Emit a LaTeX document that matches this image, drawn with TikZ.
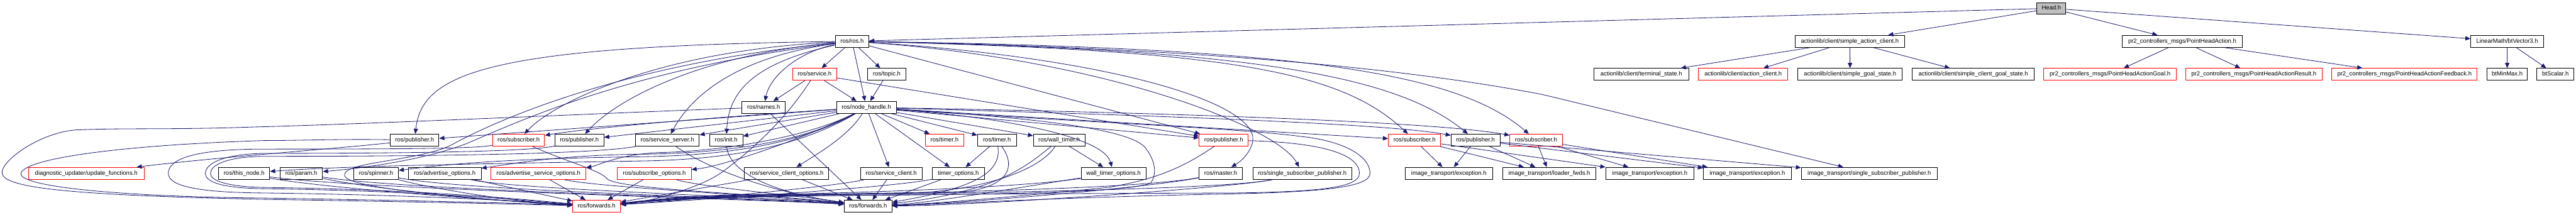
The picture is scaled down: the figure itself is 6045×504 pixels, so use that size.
\documentclass[tikz,border=0pt]{standalone}
\usepackage{fontspec}
\setmainfont{Liberation Sans}
\usetikzlibrary{arrows.meta}
\definecolor{edgec}{HTML}{191970}
\definecolor{redc}{HTML}{FF0000}
\definecolor{greyc}{HTML}{BFBFBF}
\begin{document}
\begin{tikzpicture}[x=0.5pt,y=-0.5pt,
  box/.style={draw=black, line width=0.7pt, minimum height=14pt, inner sep=0pt,
    font=\fontsize{7}{8}\selectfont, text height=5.1pt, text depth=1.5pt},
  rbox/.style={box, draw=redc},
  e/.style={draw=edgec, line width=0.6pt, -{Triangle[length=6pt,width=5pt]}}]
\fill[white] (0,0) rectangle (6045,504);
\useasboundingbox (0,0) rectangle (6045,504);

% row 0
\node[box,fill=greyc,minimum width=34pt,minimum height=13.5pt] (head) at (4814,19.5) {Head.h};
% row 1
\node[box,minimum width=39.5pt] (ros) at (1999.5,97) {ros/ros.h};
\node[box,minimum width=129pt] (sac) at (4341,97) {actionlib/client/simple\_action\_client.h};
\node[box,minimum width=141pt] (pha) at (5121,97) {pr2\_controllers\_msgs/PointHeadAction.h};
\node[box,minimum width=85.5pt] (btv) at (5883.5,97) {LinearMath/btVector3.h};
% row 2
\node[rbox,minimum width=51.5pt] (service) at (1911.5,174.5) {ros/service.h};
\node[box,minimum width=45pt] (topic) at (2081,174.5) {ros/topic.h};
\node[box,minimum width=111.5pt] (term) at (3851.5,174.5) {actionlib/client/terminal\_state.h};
\node[rbox,minimum width=104.5pt] (ac) at (4090.5,174.5) {actionlib/client/action\_client.h};
\node[box,minimum width=122.5pt] (sgs) at (4341.5,174.5) {actionlib/client/simple\_goal\_state.h};
\node[box,minimum width=143.5pt] (scgs) at (4630.5,174.5) {actionlib/client/simple\_client\_goal\_state.h};
\node[rbox,minimum width=155.5pt] (goal) at (4951.5,174.5) {pr2\_controllers\_msgs/PointHeadActionGoal.h};
\node[rbox,minimum width=160pt] (result) at (5289,174.5) {pr2\_controllers\_msgs/PointHeadActionResult.h};
\node[rbox,minimum width=170.5pt] (feedback) at (5642.5,174.5) {pr2\_controllers\_msgs/PointHeadActionFeedback.h};
\node[box,minimum width=47.5pt] (minmax) at (5883.5,174.5) {btMinMax.h};
\node[box,minimum width=43.5pt] (scalar) at (5996.5,174.5) {btScalar.h};
% row 3
\node[box,minimum width=51pt] (names) at (1792,252) {ros/names.h};
\node[box,minimum width=70pt] (nh) at (2033,252) {ros/node\_handle.h};
% row 4
\node[box,minimum width=57pt] (pubB) at (973,329) {ros/publisher.h};
\node[rbox,minimum width=61pt] (subA) at (1217,329) {ros/subscriber.h};
\node[box,minimum width=57.5pt] (pubA) at (1359.5,329) {ros/publisher.h};
\node[box,minimum width=75pt] (ss) at (1566,329) {ros/service\_server.h};
\node[box,minimum width=39pt] (init) at (1704,329) {ros/init.h};
\node[rbox,minimum width=45.5pt] (timerR) at (2216.5,329) {ros/timer.h};
\node[box,minimum width=45.5pt] (timerB) at (2339.5,329) {ros/timer.h};
\node[box,minimum width=60.5pt] (walltimer) at (2485.5,329) {ros/wall\_timer.h};
\node[rbox,minimum width=57.5pt] (pubR) at (2871.5,329) {ros/publisher.h};
\node[rbox,minimum width=61.5pt] (subB) at (3319.5,329) {ros/subscriber.h};
\node[box,minimum width=57.5pt] (pubC) at (3462.5,329) {ros/publisher.h};
\node[rbox,minimum width=61.5pt] (subC) at (3604.5,329) {ros/subscriber.h};
% row 5
\node[rbox,minimum width=135.5pt] (diag) at (202.5,407) {diagnostic\_updater/update\_functions.h};
\node[box,minimum width=60pt] (thisnode) at (573,407) {ros/this\_node.h};
\node[box,minimum width=50pt] (param) at (707,407) {ros/param.h};
\node[box,minimum width=52.5pt] (spinner) at (882.5,407) {ros/spinner.h};
\node[box,minimum width=85.5pt] (advopt) at (1043.5,407) {ros/advertise\_options.h};
\node[rbox,minimum width=111.5pt] (advsrvopt) at (1263.5,407) {ros/advertise\_service\_options.h};
\node[rbox,minimum width=86.5pt] (subopt) at (1535.5,407) {ros/subscribe\_options.h};
\node[box,minimum width=99pt] (sco) at (1846,407) {ros/service\_client\_options.h};
\node[box,minimum width=72.5pt] (sc) at (2091.5,407) {ros/service\_client.h};
\node[box,minimum width=61pt] (timeropt) at (2249,407) {timer\_options.h};
\node[box,minimum width=76pt] (wto) at (2613,407) {wall\_timer\_options.h};
\node[box,minimum width=51.5pt] (master) at (2864.5,407) {ros/master.h};
\node[box,minimum width=116pt] (ssp) at (3056,407) {ros/single\_subscriber\_publisher.h};
\node[box,minimum width=103pt] (exA) at (3400,407) {image\_transport/exception.h};
\node[box,minimum width=109.5pt] (loader) at (3635.5,407) {image\_transport/loader\_fwds.h};
\node[box,minimum width=103.5pt] (exB) at (3871.5,407) {image\_transport/exception.h};
\node[box,minimum width=103.5pt] (exC) at (4100.5,407) {image\_transport/exception.h};
\node[box,minimum width=159.5pt] (itssp) at (4386.5,407) {image\_transport/single\_subscriber\_publisher.h};
% row 6
\node[rbox,minimum width=56pt] (fwdR) at (1400,484) {ros/forwards.h};
\node[box,minimum width=56pt] (fwdB) at (2037,484) {ros/forwards.h};

% ---- Head and right part
\draw[e] (head) -- (ros);
\draw[e] (head) -- (sac);
\draw[e] (head) -- (pha);
\draw[e] (head) -- (btv);
\draw[e] (sac) -- (term);
\draw[e] (sac) -- (ac);
\draw[e] (sac) -- (sgs);
\draw[e] (sac) -- (scgs);
\draw[e] (pha) -- (goal);
\draw[e] (pha) -- (result);
\draw[e] (pha) -- (feedback);
\draw[e] (btv) -- (minmax);
\draw[e] (btv) -- (scalar);

% ---- ros.h
\draw[e] (ros) -- (service);
\draw[e] (ros) -- (topic);
\draw[e] (ros) -- (nh);
\draw[e] (ros) .. controls (1880,120) and (1808,175) .. (names);
\draw[e] (ros) .. controls (1760,150) and (1710,220) .. (init);
\draw[e] (ros) .. controls (1720,135) and (1620,230) .. (ss);
\draw[e] (ros) .. controls (1650,128) and (1450,230) .. (pubA);
\draw[e] (ros) .. controls (1550,118) and (1300,240) .. (subA);
\draw[e] (ros) .. controls (1150,108) and (990,170) .. (pubB);
\draw[e] (ros) .. controls (1500,160) and (1250,270) .. (1100,335) .. controls (1000,375) and (850,395) .. (param);
\draw[e] (ros) .. controls (1450,150) and (1150,290) .. (1060,340) .. controls (980,380) and (790,380) .. (810,415) .. controls (830,445) and (1150,470) .. (fwdR);
\draw[e] (ros) -- (pubR);
\draw[e] (ros) .. controls (2600,135) and (2950,240) .. (2940,330) .. controls (2935,360) and (2910,380) .. (master);
\draw[e] (ros) .. controls (2600,140) and (3000,300) .. (ssp);
\draw[e] (ros) .. controls (2900,118) and (3150,170) .. (subB);
\draw[e] (ros) .. controls (2950,115) and (3280,180) .. (pubC);
\draw[e] (ros) .. controls (3050,112) and (3420,170) .. (subC);
\draw[e] (ros) .. controls (2800,112) and (3300,160) .. (3620,222) -- (itssp);

% ---- service / topic
\draw[e] (service) -- (names);
\draw[e] (service) -- (nh);
\draw[e] (topic) -- (nh);
\draw[e] (service) -- (pubR);
\draw[e] (service) .. controls (1850,270) and (1780,340) .. (1700,400) .. controls (1650,440) and (1520,475) .. (fwdR);

% ---- node_handle.h
\draw[e] (nh) -- (pubB);
\draw[e] (nh) .. controls (1600,280) and (1350,305) .. (subA);
\draw[e] (nh) -- (pubA);
\draw[e] (nh) -- (ss);
\draw[e] (nh) -- (init);
\draw[e] (nh) .. controls (1900,330) and (1750,375) .. (1500,378) .. controls (1100,385) and (800,390) .. (thisnode);
\draw[e] (nh) .. controls (1900,325) and (1750,365) .. (1500,368) .. controls (1200,372) and (1050,385) .. (spinner);
\draw[e] (nh) .. controls (1910,320) and (1750,360) .. (1500,362) .. controls (1300,365) and (1200,385) .. (advopt);
\draw[e] (nh) .. controls (1900,320) and (1700,355) .. (1550,358) .. controls (1450,362) and (1400,390) .. (advsrvopt);
\draw[e] (nh) .. controls (1900,320) and (1700,390) .. (subopt);
\draw[e] (nh) .. controls (1990,320) and (1920,360) .. (sco);
\draw[e] (nh) -- (sc);
\draw[e] (nh) -- (timeropt);
\draw[e] (nh) -- (timerR);
\draw[e] (nh) -- (timerB);
\draw[e] (nh) -- (walltimer);
\draw[e] (nh) -- (pubR);
\draw[e] (nh) .. controls (2350,275) and (2590,320) .. (wto);
\draw[e] (nh) -- (subB);
\draw[e] (nh) .. controls (2600,268) and (3250,288) .. (pubC);
\draw[e] (nh) .. controls (2600,262) and (3350,282) .. (subC);
\draw[e] (nh) .. controls (2400,275) and (2660,300) .. (2690,350) .. controls (2712,380) and (2715,410) .. (2700,430) .. controls (2650,450) and (2400,455) .. (2100,458) .. controls (1900,460) and (1650,458) .. (fwdR);
\draw[e] (nh) .. controls (2500,285) and (2900,300) .. (3050,320) .. controls (3150,330) and (3215,365) .. (3215,407) .. controls (3215,440) and (3100,450) .. (2900,455) .. controls (2500,462) and (2200,480) .. (fwdB);

% ---- big loops on the left
\draw[e] (names) .. controls (1500,262) and (900,290) .. (600,298) .. controls (400,305) and (300,300) .. (178,305) .. controls (90,312) and (0,380) .. (5,407) .. controls (10,440) and (150,458) .. (620,468) .. controls (1000,474) and (1250,480) .. (fwdR);
\draw[e] (pubB) .. controls (800,326) and (700,330) .. (620,330) .. controls (300,340) and (60,370) .. (49,407) .. controls (45,440) and (300,462) .. (620,465) .. controls (1000,471) and (1250,478) .. (fwdR);
\draw[e] (pubB) .. controls (800,348) and (500,370) .. (diag);
\draw[e] (subA) .. controls (1120,348) and (1000,350) .. (620,350) .. controls (450,350) and (395,375) .. (395,407) .. controls (395,440) and (480,452) .. (620,453) .. controls (1000,458) and (1250,474) .. (fwdR);
\draw[e] (pubA) .. controls (1250,355) and (1000,360) .. (620,360) .. controls (520,362) and (482,385) .. (482,407) .. controls (482,432) and (540,442) .. (620,443) .. controls (1000,448) and (1250,472) .. (fwdR);
\draw[e] (ss) .. controls (1400,362) and (1000,367) .. (620,367) .. controls (530,368) and (494,388) .. (494,407) .. controls (494,428) and (550,439) .. (620,440) .. controls (1000,445) and (1250,470) .. (fwdR);

% ---- left row 5 to forwards
\draw[e] (thisnode) .. controls (750,440) and (1150,470) .. (fwdR);
\draw[e] (param) .. controls (850,440) and (1150,472) .. (fwdR);
\draw[e] (spinner) .. controls (1000,440) and (1200,474) .. (fwdR);
\draw[e] (advopt) -- (fwdR);
\draw[e] (advsrvopt) -- (fwdR);
\draw[e] (subopt) -- (fwdR);
\draw[e] (thisnode) .. controls (850,445) and (1850,470) .. (fwdB);
\draw[e] (param) .. controls (950,448) and (1850,468) .. (fwdB);
\draw[e] (spinner) .. controls (1100,450) and (1850,466) .. (fwdB);
\draw[e] (advopt) .. controls (1200,445) and (1850,464) .. (fwdB);
\draw[e] (advsrvopt) .. controls (1400,440) and (1850,462) .. (fwdB);
\draw[e] (subopt) .. controls (1650,440) and (1880,460) .. (fwdB);
\draw[e] (subA) .. controls (1330,380) and (1410,400) .. (1425,420) .. controls (1450,445) and (1800,455) .. (fwdB);
\draw[e] (ss) .. controls (1650,390) and (1800,450) .. (fwdB);
\draw[e] (init) .. controls (1710,400) and (1800,450) .. (fwdB);

% ---- right row 4/5 to forwards
\draw[e] (names) -- (fwdB);
\draw[e] (sco) -- (fwdB);
\draw[e] (sco) -- (fwdR);
\draw[e] (sc) -- (fwdB);
\draw[e] (sc) .. controls (1950,440) and (1600,470) .. (fwdR);
\draw[e] (timeropt) -- (fwdB);
\draw[e] (timeropt) .. controls (2100,440) and (1650,468) .. (fwdR);
\draw[e] (timerB) -- (timeropt);
\draw[e] (timerB) .. controls (2350,400) and (2300,440) .. (fwdB);
\draw[e] (timerB) .. controls (2385,390) and (2370,440) .. (2250,452) .. controls (2000,456) and (1650,460) .. (fwdR);
\draw[e] (walltimer) -- (wto);
\draw[e] (walltimer) .. controls (2420,380) and (2350,450) .. (fwdB);
\draw[e] (walltimer) .. controls (2440,400) and (2300,452) .. (2100,455) .. controls (1900,457) and (1650,458) .. (fwdR);
\draw[e] (wto) .. controls (2450,430) and (2200,475) .. (fwdB);
\draw[e] (wto) .. controls (2400,440) and (2000,454) .. (1800,456) .. controls (1700,457) and (1600,460) .. (fwdR);
\draw[e] (master) .. controls (2700,440) and (2250,478) .. (fwdB);
\draw[e] (master) .. controls (2650,448) and (2000,455) .. (1800,457) .. controls (1700,458) and (1600,462) .. (fwdR);
\draw[e] (ssp) .. controls (2900,440) and (2300,482) .. (fwdB);
\draw[e] (ssp) .. controls (2850,450) and (2000,456) .. (1800,458) .. controls (1700,459) and (1600,464) .. (fwdR);
\draw[e] (pubR) .. controls (2780,390) and (2720,420) .. (2600,440) .. controls (2400,460) and (2200,478) .. (fwdB);
\draw[e] (pubR) .. controls (3050,333) and (3190,350) .. (3190,407) .. controls (3190,440) and (3100,450) .. (2900,453) .. controls (2400,455) and (1650,456) .. (fwdR);

% ---- image_transport
\draw[e] (subB) -- (exA);
\draw[e] (subB) -- (loader);
\draw[e] (subB) -- (exB);
\draw[e] (pubC) -- (exA);
\draw[e] (pubC) -- (loader);
\draw[e] (pubC) -- (exC);
\draw[e] (pubC) -- (itssp);
\draw[e] (subC) -- (loader);
\draw[e] (subC) -- (exB);
\draw[e] (subC) -- (exC);
\end{tikzpicture}
\end{document}
